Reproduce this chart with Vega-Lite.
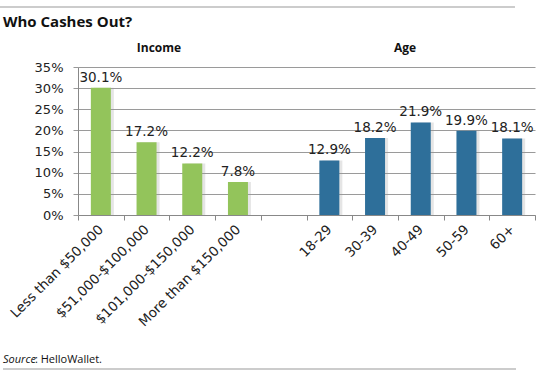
{
  "$schema": "https://vega.github.io/schema/vega-lite/v6.json",
  "width": 457,
  "height": 148,
  "autosize": "none",
  "padding": {"left": 78, "top": 67, "right": 8, "bottom": 163},
  "background": "white",
  "config": {"view": {"stroke": null}, "font": "DejaVu Sans"},
  "layer": [
    {
      "data": {
        "values": [
          {"cat": "Less than $50,000", "group": "Income", "v": 0.301},
          {"cat": "$51,000-$100,000", "group": "Income", "v": 0.172},
          {"cat": "$101,000-$150,000", "group": "Income", "v": 0.122},
          {"cat": "More than $150,000", "group": "Income", "v": 0.078},
          {"cat": "18-29", "group": "Age", "v": 0.129},
          {"cat": "30-39", "group": "Age", "v": 0.182},
          {"cat": "40-49", "group": "Age", "v": 0.219},
          {"cat": "50-59", "group": "Age", "v": 0.199},
          {"cat": "60+", "group": "Age", "v": 0.181}
        ]
      },
      "encoding": {
        "x": {
          "field": "cat",
          "type": "nominal",
          "sort": null,
          "scale": {
            "domain": ["Less than $50,000", "$51,000-$100,000", "$101,000-$150,000", "More than $150,000", " ", "18-29", "30-39", "40-49", "50-59", "60+"],
            "paddingInner": 0,
            "paddingOuter": 0
          },
          "axis": {
            "title": null,
            "labelAngle": -45,
            "labelAlign": "right",
            "labelBaseline": "middle",
            "labelFont": "DejaVu Sans",
            "labelFontSize": 13.5,
            "labelColor": "#222",
            "labelPadding": 7,
            "tickBand": "extent",
            "tickSize": 5,
            "tickColor": "#888",
            "domainColor": "#888",
            "grid": false,
            "labelOverlap": false
          }
        },
        "y": {
          "field": "v",
          "type": "quantitative",
          "scale": {"domain": [0, 0.35], "nice": false},
          "axis": {
            "title": null,
            "format": ".0%",
            "values": [0, 0.05, 0.1, 0.15, 0.2, 0.25, 0.3, 0.35],
            "labelFont": "DejaVu Sans",
            "labelFontSize": 13,
            "labelColor": "#222",
            "labelPadding": 10,
            "tickSize": 5,
            "tickColor": "#999",
            "domainColor": "#888",
            "gridColor": "#9a9a9a",
            "gridOpacity": 1
          }
        }
      },
      "layer": [
        {"mark": {"type": "bar", "size": 20, "color": "#999", "opacity": 0.25, "xOffset": 3}},
        {
          "mark": {"type": "bar", "size": 20},
          "encoding": {
            "color": {"field": "group", "type": "nominal", "scale": {"domain": ["Income", "Age"], "range": ["#93C45B", "#2E6F9A"]}, "legend": null}
          }
        },
        {
          "mark": {"type": "text", "baseline": "bottom", "dy": -3, "font": "DejaVu Sans", "fontSize": 13.5, "color": "#222"},
          "encoding": {"text": {"field": "v", "type": "quantitative", "format": ".1%"}}
        }
      ]
    },
    {
      "data": {"values": [{}]},
      "layer": [
        {
          "mark": {"type": "rule", "color": "#bbb", "strokeWidth": 1.5},
          "encoding": {
            "x": {"datum": -1.707, "type": "quantitative", "scale": {"domain": [0, 10], "nice": false, "zero": false}, "axis": null},
            "x2": {"datum": 9.562},
            "y": {"datum": 49.2, "type": "quantitative", "scale": {"domain": [0, 35], "nice": false, "zero": false}, "axis": null}
          }
        },
        {
          "mark": {"type": "rule", "color": "#bbb", "strokeWidth": 1.5},
          "encoding": {
            "x": {"datum": -1.641, "type": "quantitative"},
            "x2": {"datum": 9.584},
            "y": {"datum": -36.4, "type": "quantitative"}
          }
        },
        {
          "mark": {"type": "text", "text": "Who Cashes Out?", "align": "left", "baseline": "middle", "font": "Open Sans", "fontSize": 15, "fontWeight": "bold", "color": "#111"},
          "encoding": {
            "x": {"datum": -1.641, "type": "quantitative"},
            "y": {"datum": 45.6, "type": "quantitative"}
          }
        },
        {
          "mark": {"type": "text", "text": "Income", "align": "center", "baseline": "middle", "font": "Open Sans", "fontSize": 12, "fontWeight": "bold", "color": "#111"},
          "encoding": {
            "x": {"datum": 1.772, "type": "quantitative"},
            "y": {"datum": 39.5, "type": "quantitative"}
          }
        },
        {
          "mark": {"type": "text", "text": "Age", "align": "center", "baseline": "middle", "font": "Open Sans", "fontSize": 12, "fontWeight": "bold", "color": "#111"},
          "encoding": {
            "x": {"datum": 7.155, "type": "quantitative"},
            "y": {"datum": 39.5, "type": "quantitative"}
          }
        },
        {
          "mark": {"type": "text", "text": "Source", "align": "left", "baseline": "middle", "font": "Open Sans", "fontSize": 11, "fontStyle": "italic", "color": "#111"},
          "encoding": {
            "x": {"datum": -1.641, "type": "quantitative"},
            "y": {"datum": -34.3, "type": "quantitative"}
          }
        },
        {
          "mark": {"type": "text", "text": ": HelloWallet.", "align": "left", "baseline": "middle", "font": "Open Sans", "fontSize": 11, "color": "#111"},
          "encoding": {
            "x": {"datum": -0.941, "type": "quantitative"},
            "y": {"datum": -34.3, "type": "quantitative"}
          }
        }
      ]
    }
  ],
  "resolve": {"scale": {"x": "independent", "y": "independent"}}
}
